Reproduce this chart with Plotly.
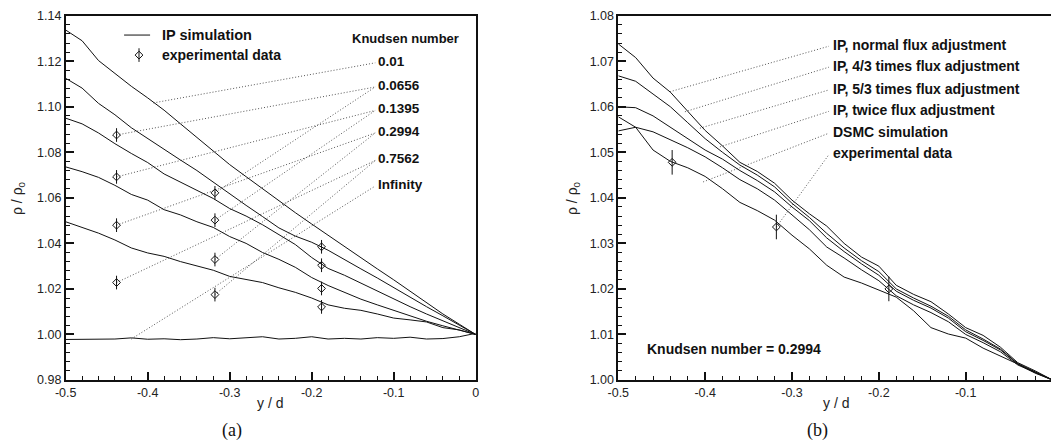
import plotly.graph_objects as go

# ---------------- data ----------------
Y_D = [-0.50, -0.48, -0.46, -0.44, -0.42, -0.40, -0.38, -0.36, -0.34, -0.32, -0.30, -0.28, -0.26,
       -0.24, -0.22, -0.20, -0.18, -0.16, -0.14, -0.12, -0.10, -0.08, -0.06, -0.04, -0.02, 0.00]

# panel (a): IP simulation for several Knudsen numbers
kn_labels = ["0.01", "0.0656", "0.1395", "0.2994", "0.7562", "Infinity"]
ip_kn_0010 = [1.1337, 1.1290, 1.1203, 1.1145, 1.1090, 1.1039, 1.0985, 1.0925, 1.0864, 1.0806, 1.0746, 1.0693, 1.0640,
              1.0584, 1.0535, 1.0485, 1.0435, 1.0385, 1.0335, 1.0288, 1.0240, 1.0190, 1.0138, 1.0090, 1.0045, 1.0000]
ip_kn_0656 = [1.1125, 1.1082, 1.1015, 1.0965, 1.0908, 1.0860, 1.0812, 1.0766, 1.0720, 1.0668, 1.0616, 1.0567, 1.0518,
              1.0468, 1.0432, 1.0405, 1.0370, 1.0328, 1.0288, 1.0248, 1.0205, 1.0165, 1.0122, 1.0082, 1.0040, 1.0000]
ip_kn_1395 = [1.0950, 1.0925, 1.0885, 1.0838, 1.0795, 1.0755, 1.0705, 1.0670, 1.0633, 1.0597, 1.0553, 1.0520, 1.0482,
              1.0440, 1.0395, 1.0338, 1.0290, 1.0260, 1.0225, 1.0190, 1.0155, 1.0122, 1.0090, 1.0060, 1.0030, 1.0000]
ip_kn_2994 = [1.0736, 1.0715, 1.0690, 1.0655, 1.0615, 1.0590, 1.0548, 1.0525, 1.0495, 1.0470, 1.0430, 1.0400, 1.0360,
              1.0330, 1.0295, 1.0250, 1.0215, 1.0185, 1.0155, 1.0130, 1.0105, 1.0080, 1.0058, 1.0038, 1.0018, 1.0000]
ip_kn_7562 = [1.0495, 1.0470, 1.0445, 1.0415, 1.0380, 1.0358, 1.0343, 1.0320, 1.0300, 1.0282, 1.0255, 1.0243, 1.0228,
              1.0205, 1.0185, 1.0160, 1.0130, 1.0115, 1.0106, 1.0090, 1.0072, 1.0064, 1.0055, 1.0030, 1.0020, 1.0000]
ip_kn_inf = [0.9978, 0.9978, 0.9978, 0.9980, 0.9985, 0.9979, 0.9981, 0.9977, 0.9980, 0.9986, 0.9981, 0.9984, 0.9990,
             0.9980, 0.9983, 0.9990, 0.9980, 0.9983, 0.9980, 0.9986, 0.9983, 0.9988, 0.9980, 0.9982, 0.9990, 1.0005]

exp_a_x = [-0.438, -0.318, -0.188]
exp_a_kn0656 = [1.0876, 1.0622, 1.0385]
exp_a_kn1395 = [1.0692, 1.0502, 1.0304]
exp_a_kn2994 = [1.0480, 1.0329, 1.0202]
exp_a_kn7562 = [1.0228, 1.0175, 1.0121]
exp_a_err = 0.003

# panel (b): Kn = 0.2994, flux adjustment variants
b_labels = ["IP, normal flux adjustment", "IP, 4/3 times flux adjustment", "IP, 5/3 times flux adjustment",
            "IP, twice flux adjustment", "DSMC simulation", "experimental data"]
ip_normal = [1.0738, 1.0708, 1.0663, 1.0632, 1.0590, 1.0548, 1.0514, 1.0478, 1.0458, 1.0432, 1.0395, 1.0365, 1.0338,
             1.0300, 1.0270, 1.0250, 1.0208, 1.0188, 1.0172, 1.0145, 1.0115, 1.0098, 1.0072, 1.0038, 1.0020, 1.0000]
ip_43 = [1.0668, 1.0656, 1.0628, 1.0600, 1.0565, 1.0530, 1.0500, 1.0472, 1.0450, 1.0424, 1.0388, 1.0357, 1.0322,
         1.0290, 1.0262, 1.0238, 1.0200, 1.0180, 1.0162, 1.0140, 1.0110, 1.0090, 1.0068, 1.0036, 1.0018, 1.0000]
ip_53 = [1.0600, 1.0598, 1.0580, 1.0555, 1.0530, 1.0505, 1.0485, 1.0460, 1.0438, 1.0413, 1.0380, 1.0350, 1.0312,
         1.0282, 1.0255, 1.0230, 1.0195, 1.0175, 1.0158, 1.0136, 1.0106, 1.0087, 1.0066, 1.0035, 1.0017, 1.0000]
ip_twice = [1.0547, 1.0555, 1.0545, 1.0528, 1.0510, 1.0490, 1.0466, 1.0440, 1.0420, 1.0395, 1.0362, 1.0330, 1.0292,
            1.0268, 1.0242, 1.0218, 1.0185, 1.0165, 1.0148, 1.0128, 1.0100, 1.0082, 1.0062, 1.0033, 1.0016, 1.0000]
dsmc = [1.0578, 1.0555, 1.0505, 1.0480, 1.0466, 1.0447, 1.0420, 1.0390, 1.0372, 1.0351, 1.0318, 1.0288, 1.0252,
        1.0226, 1.0213, 1.0198, 1.0182, 1.0152, 1.0115, 1.0101, 1.0092, 1.0070, 1.0052, 1.0035, 1.0015, 1.0000]
exp_b_x = [-0.438, -0.318, -0.1885]
exp_b_y = [1.0478, 1.0336, 1.0200]
exp_b_err = 0.0027

# ---------------- layout constants ----------------
W, H = 1051, 447
BLACK = "#111111"
FONT = "Liberation Sans, Arial, Helvetica, sans-serif"
XA_DOM = [65.7 / W, 475.7 / W]
XB_DOM = [618.3 / W, 1.0]
Y_DOM = [(H - 380) / H, (H - 15.7) / H]

fig = go.Figure()

# annotation label positions (data coords)
a_lab_x = -0.1215
a_lab_y = [1.1201, 1.1095, 1.0992, 1.0893, 1.0772, 1.0660]
a_lead_x = -0.1225
b_lab_x = -0.2555
b_lab_y = [1.0736, 1.0690, 1.0640, 1.0593, 1.0545, 1.0498]
b_lead_x = -0.2575

DOT = dict(color="#555555", width=1, dash="1px,2px")

# ---- panel (a) leader lines ----
a_curves = [ip_kn_0010, ip_kn_0656, ip_kn_1395, ip_kn_2994, ip_kn_7562, ip_kn_inf]
a_exps = [None, exp_a_kn0656, exp_a_kn1395, exp_a_kn2994, exp_a_kn7562, None]
a_curve_targets = {0: (-0.393, 1.1017), 5: (-0.420, 0.9980)}
for i in range(6):
    if a_exps[i] is not None:
        targets = [(exp_a_x[0], a_exps[i][0]), (exp_a_x[1], a_exps[i][1])]
    else:
        targets = [a_curve_targets[i]]
    for tx, ty in targets:
        fig.add_trace(go.Scatter(x=[tx, a_lead_x], y=[ty, a_lab_y[i] - 0.0008], mode="lines",
                                 line=DOT, hoverinfo="skip", showlegend=False, xaxis="x", yaxis="y"))

for ys in a_curves:
    fig.add_trace(go.Scatter(x=Y_D, y=ys, mode="lines", line=dict(color=BLACK, width=1),
                             showlegend=False, xaxis="x", yaxis="y"))

MK = dict(symbol="diamond-open", size=6, color=BLACK, line=dict(width=1))
for ys in a_exps[1:5]:
    fig.add_trace(go.Scatter(x=exp_a_x, y=ys, mode="markers", marker=MK,
                             error_y=dict(type="constant", value=exp_a_err, width=0, thickness=1, color=BLACK),
                             showlegend=False, xaxis="x", yaxis="y"))

# legend glyphs (panel a)
fig.add_shape(type="line", xref="x", yref="y", x0=-0.4288, x1=-0.3971, y0=1.1315, y1=1.1315,
              line=dict(color=BLACK, width=1))
fig.add_trace(go.Scatter(x=[-0.4106], y=[1.1227], mode="markers", marker=MK,
                         error_y=dict(type="constant", value=exp_a_err, width=0, thickness=1, color=BLACK),
                         showlegend=False, hoverinfo="skip", xaxis="x", yaxis="y"))

# ---- panel (b) ----
b_curves = [ip_normal, ip_43, ip_53, ip_twice, dsmc]
b_targets = [(-0.4406, 1.0633), (-0.4233, 1.0589), (-0.4060, 1.0553), (-0.3830, 1.0512), (-0.4023, 1.0435),
             (exp_b_x[1], exp_b_y[1])]
for i, (tx, ty) in enumerate(b_targets):
    fig.add_trace(go.Scatter(x=[tx, b_lead_x], y=[ty, b_lab_y[i] - 0.0003], mode="lines", line=DOT,
                             hoverinfo="skip", showlegend=False, xaxis="x2", yaxis="y2"))
for ys in b_curves:
    fig.add_trace(go.Scatter(x=Y_D, y=ys, mode="lines", line=dict(color=BLACK, width=1),
                             showlegend=False, xaxis="x2", yaxis="y2"))
fig.add_trace(go.Scatter(x=exp_b_x, y=exp_b_y, mode="markers", marker=MK,
                         error_y=dict(type="constant", value=exp_b_err, width=0, thickness=1, color=BLACK),
                         showlegend=False, xaxis="x2", yaxis="y2"))

# ---------------- annotations ----------------
ann = []
LBL = dict(family=FONT, size=13.5, color=BLACK)
ann.append(dict(x=-0.0862, y=1.1301, xref="x", yref="y", text="<b>Knudsen number</b>", showarrow=False,
                font=dict(family=FONT, size=13, color=BLACK), xanchor="center", yanchor="middle"))
for i, t in enumerate(kn_labels):
    ann.append(dict(x=a_lab_x, y=a_lab_y[i], xref="x", yref="y", text="<b>%s</b>" % t, showarrow=False,
                    font=LBL, xanchor="left", yanchor="middle"))
ann.append(dict(x=-0.3849, y=1.1315, xref="x", yref="y", text="<b>IP simulation</b>", showarrow=False,
                font=dict(family=FONT, size=14.5, color=BLACK), xanchor="left", yanchor="middle"))
ann.append(dict(x=-0.3849, y=1.1227, xref="x", yref="y", text="<b>experimental data</b>", showarrow=False,
                font=dict(family=FONT, size=14, color=BLACK), xanchor="left", yanchor="middle"))
for i, t in enumerate(b_labels):
    ann.append(dict(x=b_lab_x, y=b_lab_y[i], xref="x2", yref="y2", text="<b>%s</b>" % t, showarrow=False,
                    font=dict(family=FONT, size=14, color=BLACK), xanchor="left", yanchor="middle"))
ann.append(dict(x=-0.367, y=1.0067, xref="x2", yref="y2", text="<b>Knudsen number = 0.2994</b>",
                showarrow=False, font=dict(family=FONT, size=14, color=BLACK), xanchor="center",
                yanchor="middle"))

# axis titles and panel captions
ax_font = dict(family=FONT, size=14, color="#222222")
for xc in [270 / W, 836 / W]:
    ann.append(dict(x=xc, y=(H - 403) / H, xref="paper", yref="paper", text="y / d", showarrow=False,
                    font=ax_font, xanchor="center", yanchor="middle"))
for xc in [18 / W, 573 / W]:
    ann.append(dict(x=xc, y=(H - 198) / H, xref="paper", yref="paper", text="ρ / ρ<sub>0</sub>",
                    showarrow=False, font=ax_font, textangle=-90, xanchor="center", yanchor="middle"))
cap_font = dict(family="Liberation Serif, Times New Roman, serif", size=18, color=BLACK)
ann.append(dict(x=232 / W, y=(H - 430) / H, xref="paper", yref="paper", text="(a)", showarrow=False,
                font=cap_font, xanchor="center", yanchor="middle"))
ann.append(dict(x=817 / W, y=(H - 430) / H, xref="paper", yref="paper", text="(b)", showarrow=False,
                font=cap_font, xanchor="center", yanchor="middle"))

# ---------------- axes ----------------
tick_font = dict(family=FONT, size=12.5, color="#222222")
x_ticks = [-0.5, -0.4, -0.3, -0.2, -0.1, 0.0]
x_tick_text = ["-0.5", "-0.4", "-0.3", "-0.2", "-0.1", "0"]
x_minor = [round(-0.5 + 0.02 * k, 3) for k in range(26)]
common_x = dict(showgrid=False, zeroline=False, showline=True, linecolor=BLACK, linewidth=1.6, mirror=True,
                ticks="inside", ticklen=8, tickwidth=1.5, tickcolor=BLACK, tickfont=tick_font,
                tickmode="array", tickvals=x_ticks, ticktext=x_tick_text, automargin=False,
                minor=dict(tickmode="array", tickvals=x_minor, ticks="inside", ticklen=4, tickwidth=1,
                           tickcolor=BLACK))
ya_vals = [0.98 + 0.02 * k for k in range(9)]
ya_text = ["%.2f" % v for v in ya_vals]
ya_minor = [0.98 + 0.004 * k for k in range(41)]
yb_vals = [1.00 + 0.01 * k for k in range(9)]
yb_text = ["%.2f" % v for v in yb_vals]
yb_minor = [1.00 + 0.002 * k for k in range(41)]
common_y = dict(showgrid=False, zeroline=False, showline=True, linecolor=BLACK, linewidth=1.6, mirror=True,
                ticks="inside", ticklen=8, tickwidth=1.5, tickcolor=BLACK, tickfont=tick_font,
                tickmode="array", automargin=False)

fig.update_layout(
    width=W, height=H, margin=dict(l=0, r=0, t=0, b=0, autoexpand=False),
    paper_bgcolor="white", plot_bgcolor="white", showlegend=False,
    xaxis=dict(domain=XA_DOM, range=[-0.5, 0.0], anchor="y", **common_x),
    yaxis=dict(domain=Y_DOM, range=[0.98, 1.14], anchor="x", tickvals=ya_vals, ticktext=ya_text,
               minor=dict(tickmode="array", tickvals=ya_minor, ticks="inside", ticklen=4, tickwidth=1,
                          tickcolor=BLACK), **common_y),
    xaxis2=dict(domain=XB_DOM, range=[-0.5, -0.0018], anchor="y2", **common_x),
    yaxis2=dict(domain=Y_DOM, range=[1.00, 1.08], anchor="x2", tickvals=yb_vals, ticktext=yb_text,
                minor=dict(tickmode="array", tickvals=yb_minor, ticks="inside", ticklen=4, tickwidth=1,
                           tickcolor=BLACK), **common_y),
    annotations=ann,
    font=dict(family=FONT),
)

fig.write_html("out.html")
